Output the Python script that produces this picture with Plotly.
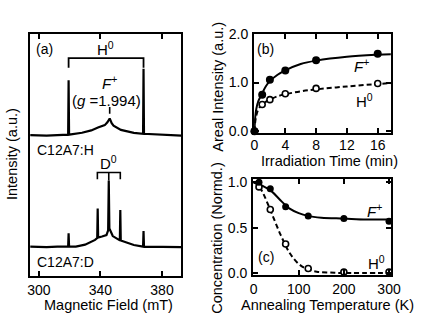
import plotly.graph_objects as go

# ---------------- Panel (a): EPR spectra ----------------
field_h = [294.3, 305, 312, 319.0, 319.3, 319.6, 328, 334, 338.4, 342.8, 344.5, 346.0,
           347.3, 348.5, 353.3, 361.7, 367.7, 368.0, 368.3, 380, 392.6]
int_h = [147.5, 147.0, 147.5, 148, 205, 148, 150, 152.5, 155.5, 158, 161, 165,
         160, 157.5, 153, 150, 149, 217, 149, 148, 147]

field_d = [294.3, 305, 312, 319.0, 319.3, 319.6, 324, 330, 336.5, 337.9, 338.2, 338.5,
           341, 343.9, 345.0, 345.4, 345.8, 346.5, 348, 352.6, 352.9, 353.2, 357,
           361.7, 367.7, 368.0, 368.3, 380, 392.6]
int_d = [31, 30.5, 31, 31, 45, 31, 31, 33, 38, 40, 70.7, 40.5,
         41.5, 43, 48, 100, 50, 47, 42, 37.5, 69.3, 37.3, 35,
         32.7, 31, 47.3, 31, 30.5, 30.5]

h0_lines = [319.3, 368.0]
d0_lines = [338.0, 345.4, 352.9]
g_field = 346.0

# ---------------- Panel (b): irradiation time ----------------
t_pts = [0, 1, 2, 4, 8, 16]
fplus_b = [0, 0.75, 1.06, 1.25, 1.46, 1.59]
h0_b = [0, 0.55, 0.65, 0.77, 0.88, 0.98]
t_fit = [0, 0.1, 0.25, 0.5, 1, 1.5, 2, 3, 4, 6, 8, 12, 16, 17.8]
fplus_b_fit = [0, 0.3, 0.47, 0.62, 0.78, 0.93, 1.03, 1.16, 1.25, 1.38, 1.45, 1.53, 1.57, 1.58]
h0_b_fit = [0, 0.2, 0.33, 0.45, 0.55, 0.61, 0.65, 0.72, 0.76, 0.82, 0.86, 0.92, 0.97, 0.99]

# ---------------- Panel (c): annealing temperature ----------------
temp_pts = [12, 37, 71, 121, 200, 300]
fplus_c = [1.0, 0.93, 0.73, 0.63, 0.60, 0.57]
h0_c = [0.95, 0.70, 0.32, 0.05, 0.01, 0.01]
temp_fit = [0, 10, 20, 40, 60, 80, 100, 120, 150, 200, 250, 305]
fplus_c_fit = [1.0, 0.98, 0.96, 0.90, 0.80, 0.71, 0.66, 0.63, 0.61, 0.60, 0.59, 0.59]
temp_fit2 = [0, 10, 20, 30, 40, 60, 80, 100, 120, 140, 170, 200, 305]
h0_c_fit = [1.0, 0.97, 0.89, 0.78, 0.66, 0.42, 0.22, 0.10, 0.04, 0.015, 0.005, 0.0, 0.0]

FONT = "Liberation Sans, Arial, sans-serif"
BLK = "black"

fig = go.Figure()

# spectra
fig.add_trace(go.Scatter(x=field_h, y=int_h, mode="lines", line=dict(color=BLK, width=2.2),
                         xaxis="x", yaxis="y", showlegend=False))
fig.add_trace(go.Scatter(x=field_d, y=int_d, mode="lines", line=dict(color=BLK, width=2.2),
                         xaxis="x", yaxis="y", showlegend=False))

# H0 bracket
hb_top, hb_bot = 228, 218
fig.add_trace(go.Scatter(x=[h0_lines[0], h0_lines[0], h0_lines[1], h0_lines[1]],
                         y=[hb_bot, hb_top, hb_top, hb_bot], mode="lines",
                         line=dict(color=BLK, width=1.8), xaxis="x", yaxis="y", showlegend=False))
# D0 bracket
db_top, db_bot = 108.5, 101.5
fig.add_trace(go.Scatter(x=[d0_lines[0], d0_lines[0], d0_lines[2], d0_lines[2]],
                         y=[db_bot, db_top, db_top, db_bot], mode="lines",
                         line=dict(color=BLK, width=1.6), xaxis="x", yaxis="y", showlegend=False))
fig.add_trace(go.Scatter(x=[d0_lines[1], d0_lines[1]], y=[db_top, 100], mode="lines",
                         line=dict(color=BLK, width=1.6), xaxis="x", yaxis="y", showlegend=False))
# g marker
fig.add_trace(go.Scatter(x=[g_field, g_field], y=[170, 177], mode="lines",
                         line=dict(color=BLK, width=1.6), xaxis="x", yaxis="y", showlegend=False))

# panel b
fig.add_trace(go.Scatter(x=t_fit, y=fplus_b_fit, mode="lines", line=dict(color=BLK, width=2, shape="spline"),
                         xaxis="x2", yaxis="y2", showlegend=False))
fig.add_trace(go.Scatter(x=t_fit, y=h0_b_fit, mode="lines",
                         line=dict(color=BLK, width=2, dash="5px,3px", shape="spline"),
                         xaxis="x2", yaxis="y2", showlegend=False))
fig.add_trace(go.Scatter(x=t_pts, y=h0_b, mode="markers", cliponaxis=False,
                         marker=dict(size=6, color="white", line=dict(color=BLK, width=1.6)),
                         xaxis="x2", yaxis="y2", showlegend=False))
fig.add_trace(go.Scatter(x=t_pts, y=fplus_b, mode="markers", cliponaxis=False,
                         marker=dict(size=8, color=BLK),
                         xaxis="x2", yaxis="y2", showlegend=False))

# panel c
fig.add_trace(go.Scatter(x=temp_fit, y=fplus_c_fit, mode="lines", line=dict(color=BLK, width=2, shape="spline"),
                         xaxis="x3", yaxis="y3", showlegend=False))
fig.add_trace(go.Scatter(x=temp_fit2, y=h0_c_fit, mode="lines",
                         line=dict(color=BLK, width=2, dash="5px,3px", shape="spline"),
                         xaxis="x3", yaxis="y3", showlegend=False))
fig.add_trace(go.Scatter(x=temp_pts, y=h0_c, mode="markers", cliponaxis=False,
                         marker=dict(size=6, color="white", line=dict(color=BLK, width=1.6)),
                         xaxis="x3", yaxis="y3", showlegend=False))
fig.add_trace(go.Scatter(x=temp_pts, y=fplus_c, mode="markers", cliponaxis=False,
                         marker=dict(size=7, color=BLK),
                         xaxis="x3", yaxis="y3", showlegend=False))

W, H = 426, 320


def px_x(x):
    return x / W


def px_y(y):
    return 1 - y / H


axis_common = dict(showline=True, linecolor=BLK, linewidth=2, mirror="ticks", ticks="inside",
                   ticklen=5, tickwidth=1.5, tickcolor=BLK, showgrid=False, zeroline=False,
                   tickfont=dict(family=FONT, size=14, color=BLK))

fig.update_layout(
    width=W, height=H, margin=dict(l=0, r=0, t=0, b=0),
    paper_bgcolor="white", plot_bgcolor="white",
    font=dict(family=FONT, color=BLK, size=14),
    xaxis=dict(domain=[px_x(28), px_x(184)], range=[294.3, 392.6], tickvals=[300, 340, 380],
               anchor="y", **axis_common),
    yaxis=dict(domain=[px_y(280.5), px_y(27)], range=[0, 253.5], anchor="x",
               showline=True, linecolor=BLK, linewidth=2, mirror=True, ticks="",
               showticklabels=False, showgrid=False, zeroline=False),
    xaxis2=dict(domain=[px_x(259), px_x(400)], range=[-0.05, 17.7], tickvals=[0, 4, 8, 12, 16],
                anchor="y2", ticklabelstandoff=-2, **axis_common),
    yaxis2=dict(domain=[px_y(131), px_y(27)], range=[-0.04, 2.0], tickvals=[0, 1, 2],
                ticktext=["0.0", "1.0", "2.0"], anchor="x2", ticklabelstandoff=1, **axis_common),
    xaxis3=dict(domain=[px_x(258), px_x(400.5)], range=[-1, 305], tickvals=[0, 100, 200, 300],
                anchor="y3", **axis_common),
    yaxis3=dict(domain=[px_y(279.5), px_y(179)], range=[-0.025, 1.035], tickvals=[0, 0.5, 1],
                ticktext=["0.0", "0.5", "1.0"], anchor="x3", ticklabelstandoff=1, **axis_common),
)

ann = []


def paper_text(text, x, y, size=15, angle=0, xanchor="center"):
    ann.append(dict(text=text, x=px_x(x), y=px_y(y), xref="paper", yref="paper",
                    showarrow=False, font=dict(family=FONT, size=size, color=BLK),
                    textangle=angle, xanchor=xanchor, yanchor="middle"))


def data_text(text, x, y, size=15, xanchor="center"):
    ann.append(dict(text=text, x=x, y=y, xref="x", yref="y", showarrow=False,
                    font=dict(family=FONT, size=size, color=BLK), xanchor=xanchor, yanchor="middle"))


# axis titles
paper_text("Magnetic Field (mT)", 109, 311, size=14.5)
paper_text("Intensity (a.u.)", 10, 153, size=14.5, angle=-90)
paper_text("Irradiation Time (min)", 337, 160, size=14.5)
paper_text("Areal Intensity (a.u.)", 222, 82, size=14.5, angle=-90)
paper_text("Annealing Temperature (K)", 335, 311, size=14.5)
paper_text("Concentration (Normd.)", 220, 240, size=14.5, angle=-90)

# panel labels
paper_text("(a)", 43, 43, size=14)
paper_text("(b)", 271, 43, size=14)
paper_text("(c)", 271, 260, size=14)

# panel (a) texts
data_text("H<sup>0</sup>", 343.5, 238)
data_text("<i>F</i><sup>+</sup>", g_field, 203)
data_text("(<i>g</i> =1.994)", 344.0, 184)
data_text("D<sup>0</sup>", 345.4, 119)
data_text("C12A7:H", 297.3, 132, size=14, xanchor="left")
data_text("C12A7:D", 297.3, 15, size=14, xanchor="left")

# panel (b) texts
paper_text("<i>F</i><sup>+</sup>", 370, 60)
paper_text("H<sup>0</sup>", 373, 97)
# panel (c) texts
paper_text("<i>F</i><sup>+</sup>", 383, 212)
paper_text("H<sup>0</sup>", 385, 266)

fig.update_layout(annotations=ann)

fig.write_html("out.html", config={"displayModeBar": False},
               post_script="document.body.style.margin='0';document.body.style.padding='0';")
